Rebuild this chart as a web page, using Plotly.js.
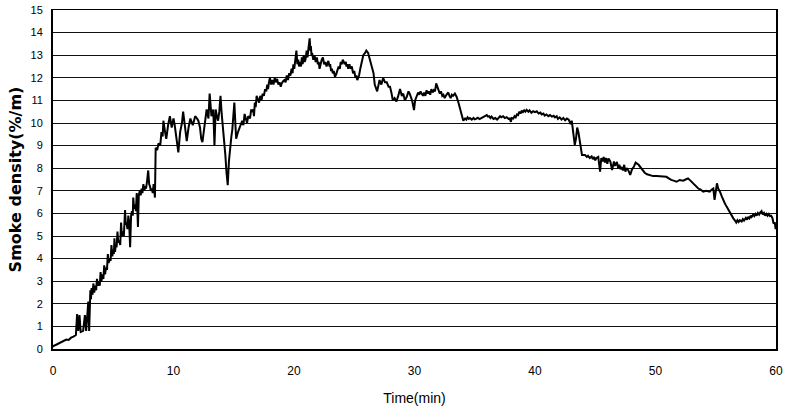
<!DOCTYPE html>
<html>
<head>
<meta charset="utf-8">
<script src="https://cdn.plot.ly/plotly-3.0.1.min.js"></script>
<style>html,body{margin:0;padding:0;background:#fff;}#chart{width:786px;height:414px;}</style>
</head>
<body>
<div id="chart"></div>
<script>
// Readings, segment by segment
const timeA = [0,0.1,0.3,0.5,0.7,0.9,1.1,1.3,1.5,1.7,1.9,2.0,2.1,2.2,2.3,2.5,2.65,2.75,2.85,2.93,3.0,
  3.1,3.15,3.2,3.28,3.35,3.42,3.5,3.58,3.65,3.72,3.8,3.88,3.95,4.02,4.1,4.18,4.25,4.32,4.4,4.48,
  4.55,4.62,4.7,4.78,4.85,4.92,5.0,5.05,5.1,5.15,5.2,5.28,5.35,5.42,5.5,5.58,5.65,5.72,5.8,5.88,
  5.98,6.04,6.1,6.18,6.25,6.32,6.4,6.48,6.55,6.62,6.66,6.73,6.8,6.88,6.95,7.05,7.12,7.2,7.28,7.35,
  7.42,7.5,7.58,7.65,7.72,7.8,7.9,7.98,8.05,8.12,8.2,8.28,8.35,8.46];
const smokeA = [0.1,0.15,0.2,0.25,0.3,0.35,0.42,0.4,0.5,0.55,0.62,1.55,0.8,1.5,0.75,0.8,1.5,0.8,1.45,2.1,0.8,
  2.6,2.2,2.7,2.4,2.9,2.5,2.8,2.6,3.1,2.8,3.0,2.8,3.4,3.0,3.3,3.1,3.7,3.3,3.6,3.5,
  4.2,3.8,4.0,3.9,4.6,4.1,4.4,4.2,4.9,4.3,4.6,4.5,5.2,4.7,4.8,4.6,5.6,5.0,5.2,5.0,
  6.15,5.5,5.6,5.3,5.9,5.6,4.5,5.9,6.1,5.9,6.7,6.2,6.4,6.1,6.9,5.4,6.8,7.0,6.8,7.1,
  6.9,7.3,7.0,7.2,7.1,7.4,7.9,7.3,7.2,7.0,7.1,6.9,7.3,6.7];

const timeB = [8.52,8.65,8.75,8.9,9.0,9.1,9.16,9.3,9.4,9.55,9.7,9.85,10.0,10.1,10.25,10.4,10.55,10.7,10.8,10.95,
  11.1,11.25,11.4,11.6,11.8,11.95,12.06,12.2,12.3,12.4,12.55,12.75,12.9,13.0,13.15,13.3,13.4,13.5,13.6,13.7,
  13.8,13.9,14.0,14.1,14.2,14.3,14.4,14.5,14.6,14.7,14.8,14.88,14.95,15.05,15.15,15.2,15.35];
const smokeB = [8.9,8.8,9.1,9.0,9.6,9.4,10.1,9.6,9.3,9.9,10.3,9.8,10.2,9.9,9.4,8.7,9.6,10.0,10.5,9.8,
  9.2,9.8,10.2,9.9,10.3,10.2,10.1,9.8,9.3,9.15,9.9,10.6,10.2,11.3,10.3,10.6,9.0,10.6,10.3,10.1,
  10.5,11.2,10.4,9.9,9.1,8.6,7.8,7.25,8.3,9.0,9.4,9.7,10.2,10.9,9.8,9.3,9.6];

const timeC = [15.5,15.6,15.7,15.8,15.9,16.0,16.1,16.2,16.35,16.45,16.5,16.6,16.68,16.75,16.82,16.9,17.0,17.1,17.2,17.3,
  17.4,17.5,17.6,17.7,17.78,17.85,17.92,18.0,18.1,18.2,18.3,18.4,18.5,18.6,18.7,18.8,18.9,18.98,19.1,19.2,
  19.3,19.4,19.5,19.6,19.7,19.8,19.88,19.95,20.02,20.1,20.2,20.28,20.35,20.42,20.5,20.58,20.65,20.72,20.8,20.88,
  20.95,21.05,21.12,21.2,21.3,21.36,21.4,21.45,21.5,21.6,21.7,21.8,21.9,21.98,22.05,22.12,22.2,22.3,22.4,22.5,
  22.6,22.7,22.85,22.95,23.0,23.08,23.15,23.22,23.3,23.4,23.5,23.6,23.7,23.8,23.88,23.96,24.05,24.2,24.3,24.35,
  24.42,24.5,24.6,24.7,24.8,24.9,25.0,25.1,25.18,25.25,25.32,25.4];
const smokeC = [9.8,10.0,10.1,9.9,10.4,10.2,10.0,10.3,10.2,10.6,10.5,10.6,10.3,10.9,10.7,11.2,11.0,10.9,11.2,11.0,
  11.3,11.2,11.5,11.4,11.7,11.5,11.8,12.0,11.7,11.9,11.7,12.0,11.8,11.95,11.7,11.8,11.6,11.75,11.85,11.9,
  11.8,12.1,11.9,12.2,12.1,12.4,12.2,12.6,12.4,12.85,13.2,12.6,12.8,12.5,12.7,12.5,12.9,12.6,13.0,12.7,
  12.8,13.2,12.9,13.3,13.75,13.2,13.4,13.0,13.1,12.8,13.0,12.7,12.9,12.6,12.7,12.4,12.6,12.8,12.9,12.6,
  12.7,12.5,12.75,12.5,12.6,12.3,12.4,12.2,12.3,12.05,12.15,12.3,12.5,12.4,12.7,12.6,12.8,12.6,12.7,12.5,
  12.6,12.4,12.6,12.4,12.5,12.2,12.3,12.0,12.1,11.9,12.0,12.1];

const timeD = [25.5,25.65,25.75,25.9,26.0,26.15,26.3,26.45,26.6,26.7,26.9,27.0,27.1,27.25,27.4,27.55,27.7,27.85,27.97,28.1,
  28.2,28.35,28.5,28.65,28.8,28.95,29.07,29.2,29.35,29.5,29.6,29.8,29.96,30.05,30.2,30.3,30.4,30.5,30.6,30.7,
  30.8,30.9,31.0,31.1,31.2,31.3,31.4,31.5,31.6,31.7,31.8,31.95,32.1,32.2,32.3,32.4,32.5,32.65,32.8,32.9,
  33.0,33.1,33.2,33.35,33.5,33.65,33.8,33.95,34.05,34.2,34.3,34.4,34.5,34.6,34.75,34.9,35.0,35.1,35.25,35.4,35.55];
const smokeD = [12.4,12.8,13.0,13.1,13.2,13.1,12.85,12.5,12.2,11.7,11.4,11.7,11.9,11.7,12.0,11.8,11.8,11.6,11.6,11.3,
  11.0,11.1,10.95,11.2,11.5,11.2,11.3,11.0,11.15,11.4,11.3,11.0,10.57,11.0,11.2,11.35,11.25,11.4,11.3,11.2,
  11.35,11.2,11.45,11.3,11.4,11.25,11.5,11.35,11.45,11.4,11.75,11.5,11.3,11.4,11.2,11.25,11.1,11.25,11.35,11.2,
  11.1,11.25,11.2,11.3,11.15,10.9,10.6,10.2,10.1,10.2,10.15,10.25,10.18,10.22,10.15,10.22,10.16,10.18,10.23,10.17,10.22];

const timeE = [35.7,35.85,36.0,36.1,36.2,36.3,36.4,36.55,36.7,36.85,36.95,37.1,37.2,37.35,37.5,37.65,37.8,37.9,38.0,38.07,
  38.2,38.3,38.4,38.5,38.6,38.7,38.8,38.9,39.0,39.1,39.2,39.3,39.45,39.55,39.7,39.85,40.0,40.15,40.3,40.45,
  40.55,40.7,40.8,40.95,41.1,41.25,41.4,41.55,41.66,41.8,41.9,42.05,42.2,42.35,42.5,42.65,42.8,42.95,43.05];
const smokeE = [10.25,10.3,10.35,10.28,10.3,10.22,10.28,10.18,10.22,10.15,10.22,10.3,10.25,10.3,10.22,10.26,10.18,10.2,10.05,10.22,
  10.2,10.3,10.25,10.38,10.35,10.5,10.42,10.55,10.48,10.56,10.5,10.58,10.5,10.56,10.45,10.52,10.48,10.52,10.42,10.46,
  10.38,10.42,10.33,10.38,10.3,10.35,10.28,10.32,10.25,10.3,10.18,10.25,10.15,10.22,10.12,10.2,10.15,9.95,10.1];

const timeF = [43.15,43.3,43.4,43.5,43.6,43.7,43.8,43.9,44.15,44.3,44.4,44.55,44.7,44.8,44.9,45.0,45.1,45.25,45.4,45.5,
  45.6,45.7,45.8,45.9,46.0,46.1,46.25,46.4,46.55,46.65,46.8,46.9,47.0,47.1,47.2,47.3,47.4,47.5,47.6,47.75,
  47.9,48.05,48.2];
const smokeF = [9.75,9.03,9.3,9.8,9.6,9.3,8.9,8.58,8.58,8.5,8.55,8.45,8.52,8.4,8.5,8.35,8.45,8.5,7.85,8.45,
  8.3,8.5,8.25,8.45,8.2,8.43,8.3,7.92,8.3,8.1,8.28,8.0,8.15,7.95,8.05,7.9,8.15,7.85,8.0,7.9,
  7.7,7.95,8.06];

const timeG = [48.35,48.6,48.85,49.1,49.3,49.5,49.8,50.1,50.4,50.7,50.9,51.1,51.3,51.5,51.75,52.0,52.3,52.5,52.7,52.9,
  53.1,53.3,53.55,53.75,53.96,54.2,54.5,54.65,54.8,54.9,55.0,55.1,55.2,55.35,55.5,55.6,55.75,55.9,56.05,56.2,
  56.35,56.46,56.6,56.7,56.8,56.9,57.0,57.15,57.25,57.35,57.5,57.6,57.7,57.8,57.9,57.98,58.1,58.2,58.3,58.4,
  58.5,58.6,58.7,58.8,58.9,59.0,59.1,59.2,59.3,59.4,59.5,59.6,59.7,59.8,59.9,59.97];
const smokeG = [8.25,8.15,7.95,7.8,7.73,7.7,7.65,7.65,7.65,7.62,7.62,7.55,7.48,7.45,7.4,7.48,7.45,7.5,7.55,7.45,
  7.33,7.25,7.1,7.05,6.96,7.0,6.96,7.05,7.1,6.6,7.0,7.33,7.1,6.96,6.75,6.6,6.45,6.3,6.15,6.05,
  5.9,5.78,5.68,5.6,5.7,5.62,5.7,5.64,5.75,5.68,5.8,5.72,5.85,5.78,5.9,5.84,5.95,5.88,5.98,5.9,
  6.02,5.95,6.05,6.1,5.95,6.02,5.9,5.98,5.9,5.97,5.88,5.9,5.8,5.55,5.6,5.3];

const xTickVals = [0,10,20,30,40,50,60];
const yTickVals = [0,1,2,3,4,5,6,7,8,9,10,11,12,13,14,15];

const timeMin = [].concat(timeA, timeB, timeC, timeD, timeE, timeF, timeG);
const smokeDensity = [].concat(smokeA, smokeB, smokeC, smokeD, smokeE, smokeF, smokeG);

const trace = {
  x: timeMin, y: smokeDensity, type: 'scatter', mode: 'lines',
  line: {color: '#000', width: 2}, hoverinfo: 'skip'
};
const layout = {
  width: 786, height: 414,
  margin: {l: 53, r: 10, t: 10, b: 65},
  paper_bgcolor: '#fff', plot_bgcolor: '#fff',
  showlegend: false,
  font: {family: 'Arial, "Liberation Sans", sans-serif', color: '#000'},
  xaxis: {
    range: [0, 60], tickvals: xTickVals, ticktext: xTickVals.map(String),
    showgrid: false, zeroline: false, showline: true, mirror: true,
    linecolor: '#000', linewidth: 1.5, ticks: '', ticklabelstandoff: 10,
    tickfont: {size: 12, family: 'Arial, "Liberation Sans", sans-serif', color: '#000'},
    title: {text: 'Time(min)', font: {size: 14, family: 'Arial, "Liberation Sans", sans-serif', color: '#000'}, standoff: 16}
  },
  yaxis: {
    range: [0, 15], tickvals: yTickVals, ticktext: yTickVals.map(String),
    showgrid: true, gridcolor: '#111', gridwidth: 1,
    zeroline: false, showline: true, mirror: true,
    linecolor: '#000', linewidth: 2, ticks: '', ticklabelstandoff: 6,
    tickfont: {size: 11, family: 'Arial, "Liberation Sans", sans-serif', color: '#000'},
    title: {text: 'Smoke density(%/m)', font: {size: 16, weight: 'bold', family: '"DejaVu Sans", sans-serif', color: '#000'}, standoff: 5}
  }
};
Plotly.newPlot('chart', [trace], layout, {staticPlot: true, displayModeBar: false});
</script>
</body>
</html>
